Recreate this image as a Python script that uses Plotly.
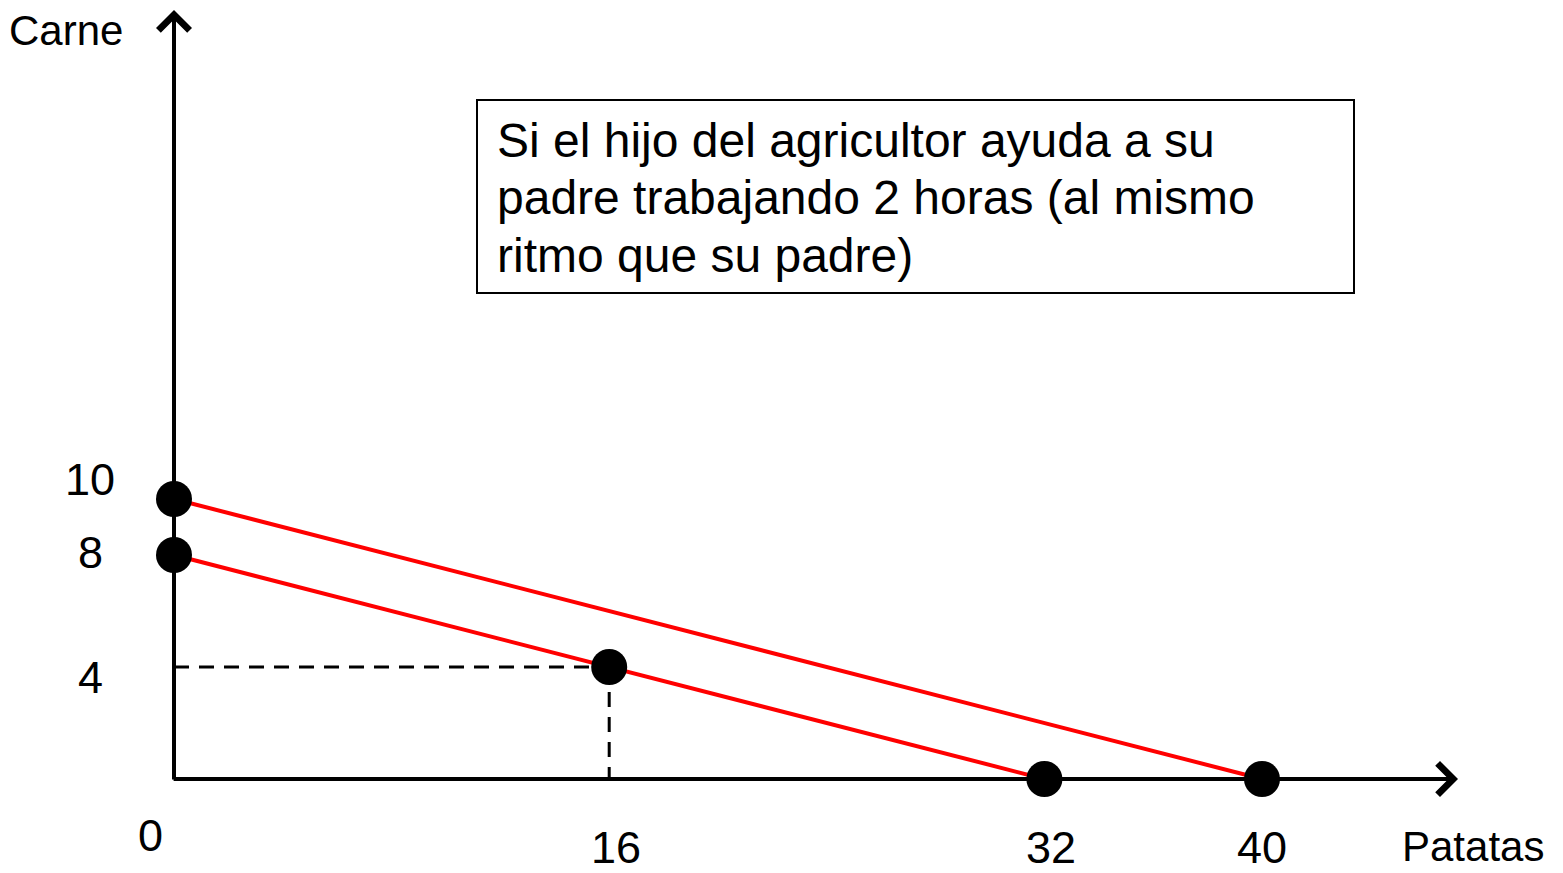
import plotly.graph_objects as go

W, H = 1563, 873

# ---------------- data ----------------
x_tick_vals = [0, 16, 32, 40]
x_tick_text = ["0", "16", "32", "40"]
y_tick_vals = [10, 8, 4]
y_tick_text = ["10", "8", "4"]

# frontier with the son's help (father + son)
with_son_x = [0, 40]
with_son_y = [10, 0]
# frontier of the father alone
father_x = [0, 32]
father_y = [8, 0]
# highlighted points
points_x = [0, 0, 16, 32, 40]
points_y = [10, 8, 4, 0, 0]
# chosen combination (dashed guides)
combo_x = 16
combo_y = 4

x_title = "Patatas"
y_title = "Carne"
note_lines = [
    "Si el hijo del agricultor ayuda a su",
    "padre trabajando 2 horas (al mismo",
    "ritmo que su padre)",
]

# ---------------- layout geometry (pixels) ----------------
X0PX, Y0PX = 174, 779      # pixel position of the origin
SX, SY = 27.2, 28.0        # pixels per unit
x_range = [-X0PX / SX, (W - X0PX) / SX]
y_range = [-(H - Y0PX) / SY, Y0PX / SY]
x_axis_end = (1458 - X0PX) / SX
y_axis_end = (Y0PX - 10) / SY

FONT = "Liberation Sans, Arial, sans-serif"


def px(xp):
    return xp / W


def py(yp):
    return 1 - yp / H


fig = go.Figure()

dash_style = dict(color="black", width=3, dash="15px,10px")
fig.add_trace(go.Scatter(x=[0, combo_x], y=[combo_y, combo_y], mode="lines",
                         line=dash_style, hoverinfo="skip", showlegend=False))
fig.add_trace(go.Scatter(x=[combo_x, combo_x], y=[combo_y, 0], mode="lines",
                         line=dash_style, hoverinfo="skip", showlegend=False))

fig.add_trace(go.Scatter(x=with_son_x, y=with_son_y, mode="lines",
                         line=dict(color="#FF0000", width=4), showlegend=False))
fig.add_trace(go.Scatter(x=father_x, y=father_y, mode="lines",
                         line=dict(color="#FF0000", width=4), showlegend=False))

fig.add_trace(go.Scatter(x=points_x, y=points_y, mode="markers",
                         marker=dict(color="black", size=36, line=dict(width=0)),
                         showlegend=False))

annotations = []
# axes with arrowheads
annotations.append(dict(x=x_axis_end, y=0, ax=-0.07, ay=0, xref="x", yref="y",
                        axref="x", ayref="y", text="", showarrow=True,
                        arrowhead=4, arrowsize=1.5, arrowwidth=4, arrowcolor="black"))
annotations.append(dict(x=0, y=y_axis_end, ax=0, ay=-0.07, xref="x", yref="y",
                        axref="x", ayref="y", text="", showarrow=True,
                        arrowhead=4, arrowsize=1.5, arrowwidth=4, arrowcolor="black"))

# axis titles
annotations.append(dict(x=px(8), y=py(31), xref="paper", yref="paper", text=y_title,
                        showarrow=False, xanchor="left", yanchor="middle", borderpad=0,
                        font=dict(family=FONT, size=42, color="black")))
annotations.append(dict(x=px(1401), y=py(846), xref="paper", yref="paper", text=x_title,
                        showarrow=False, xanchor="left", yanchor="middle", borderpad=0,
                        font=dict(family=FONT, size=42, color="black")))

# x tick labels
x_label_y = {0: 835}
for v, t in zip(x_tick_vals, x_tick_text):
    annotations.append(dict(x=v, y=py(x_label_y.get(v, 847)), xref="x", yref="paper",
                            text=t, showarrow=False, xanchor="center", yanchor="middle",
                            borderpad=0,
                            xshift=-24 if v == 0 else 7 if v in (16, 32) else 0,
                            font=dict(family=FONT, size=45, color="black")))

# y tick labels
y_shift = {10: 20, 8: 3, 4: -10}
for v, t in zip(y_tick_vals, y_tick_text):
    annotations.append(dict(x=px(90), y=v, xref="paper", yref="y", text=t,
                            showarrow=False, xanchor="center", yanchor="middle",
                            yshift=y_shift[v], borderpad=0,
                            font=dict(family=FONT, size=45, color="black")))

# note box text
for line, yp in zip(note_lines, [140, 198, 255]):
    annotations.append(dict(x=px(495), y=py(yp), xref="paper", yref="paper", text=line,
                            showarrow=False, xanchor="left", yanchor="middle",
                            font=dict(family=FONT, size=48, color="black")))

fig.update_layout(
    width=W, height=H,
    margin=dict(l=0, r=0, t=0, b=0),
    paper_bgcolor="white", plot_bgcolor="white",
    xaxis=dict(range=x_range, visible=False, fixedrange=True),
    yaxis=dict(range=y_range, visible=False, fixedrange=True),
    annotations=annotations,
    hovermode=False,
    shapes=[dict(type="rect", xref="paper", yref="paper",
                 x0=px(477), x1=px(1354), y0=py(293), y1=py(100),
                 line=dict(color="black", width=2), fillcolor="rgba(0,0,0,0)")],
)

fig.write_html(
    "out.html",
    config={"displayModeBar": False},
    post_script="document.body.style.margin='0px';document.body.style.overflow='hidden';",
)
